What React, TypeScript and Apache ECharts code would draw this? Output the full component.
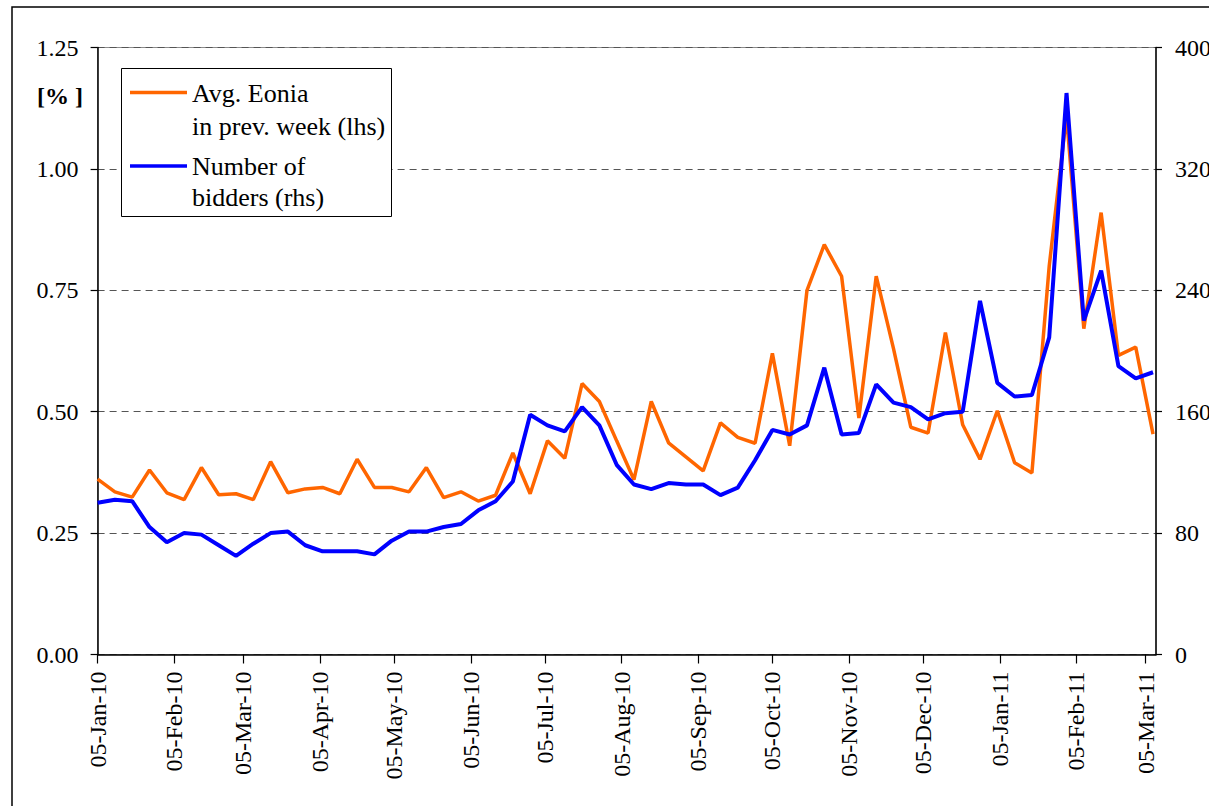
import React, { useEffect, useRef } from "react";
import * as echarts from "echarts";

const dates: string[] = [
  "2010-01-05", "2010-01-12", "2010-01-19", "2010-01-26",
  "2010-02-02", "2010-02-09", "2010-02-16", "2010-02-23",
  "2010-03-02", "2010-03-09", "2010-03-16", "2010-03-23", "2010-03-30",
  "2010-04-06", "2010-04-13", "2010-04-20", "2010-04-27",
  "2010-05-04", "2010-05-11", "2010-05-18", "2010-05-25",
  "2010-06-01", "2010-06-08", "2010-06-15", "2010-06-22", "2010-06-29",
  "2010-07-06", "2010-07-13", "2010-07-20", "2010-07-27",
  "2010-08-03", "2010-08-10", "2010-08-17", "2010-08-24", "2010-08-31",
  "2010-09-07", "2010-09-14", "2010-09-21", "2010-09-28",
  "2010-10-05", "2010-10-12", "2010-10-19", "2010-10-26",
  "2010-11-02", "2010-11-09", "2010-11-16", "2010-11-23", "2010-11-30",
  "2010-12-07", "2010-12-14", "2010-12-21", "2010-12-28",
  "2011-01-04", "2011-01-11", "2011-01-18", "2011-01-25",
  "2011-02-01", "2011-02-08", "2011-02-15", "2011-02-22",
  "2011-03-01", "2011-03-08",
];

const eonia: number[] = [
  0.361, 0.335, 0.324, 0.380, 0.333, 0.319, 0.385, 0.329, 0.331, 0.319,
  0.397, 0.333, 0.341, 0.344, 0.331, 0.402, 0.344, 0.344, 0.335, 0.385,
  0.323, 0.335, 0.316, 0.328, 0.415, 0.331, 0.440, 0.404, 0.558, 0.521,
  0.440, 0.360, 0.521, 0.436, 0.407, 0.378, 0.477, 0.447, 0.435, 0.620,
  0.430, 0.750, 0.844, 0.779, 0.487, 0.779, 0.630, 0.468, 0.456, 0.663,
  0.473, 0.402, 0.502, 0.395, 0.374, 0.800, 1.110, 0.671, 0.910, 0.616,
  0.633, 0.454,
];

const bidders: number[] = [
  100, 102, 101, 84, 74, 80, 79, 72, 65, 73,
  80, 81, 72, 68, 68, 68, 66, 75, 81, 81,
  84, 86, 95, 101, 114, 158, 151, 147, 163, 151,
  125, 112, 109, 113, 112, 112, 105, 110, 128, 148,
  145, 151, 189, 145, 146, 178, 166, 163, 155, 159,
  160, 233, 179, 170, 171, 209, 370, 220, 253, 190,
  182, 186,
];

const tickDates: string[] = [
  "2010-01-05", "2010-02-05", "2010-03-05", "2010-04-05", "2010-05-05",
  "2010-06-05", "2010-07-05", "2010-08-05", "2010-09-05", "2010-10-05",
  "2010-11-05", "2010-12-05", "2011-01-05", "2011-02-05", "2011-03-05",
];

const MONTHS = ["Jan", "Feb", "Mar", "Apr", "May", "Jun", "Jul", "Aug", "Sep", "Oct", "Nov", "Dec"];
const DAY = 86400000;
const BASE = Date.UTC(2010, 0, 5);

function toDay(s: string): number {
  const [y, m, d] = s.split("-").map(Number);
  return Math.round((Date.UTC(y, m - 1, d) - BASE) / DAY);
}

function fmtDay(v: number): string {
  const d = new Date(BASE + Math.round(v) * DAY);
  const dd = String(d.getUTCDate()).padStart(2, "0");
  return `${dd}-${MONTHS[d.getUTCMonth()]}-${String(d.getUTCFullYear()).slice(2)}`;
}

const FONT = "Liberation Serif";

export default function App() {
  const ref = useRef<HTMLDivElement>(null);

  useEffect(() => {
    if (!ref.current) return;
    const chart = echarts.init(ref.current, null, { renderer: "svg" });
    const dayIdx = dates.map(toDay);
    const tickDays = tickDates.map(toDay);

    const option: any = {
      animation: false,
      textStyle: { fontFamily: FONT },
      grid: {
        left: 97.6,
        top: 47.5,
        width: 1058.4,
        height: 607,
        show: true,
        borderColor: "#8c8c8c",
        borderWidth: 1,
        backgroundColor: "transparent",
        containLabel: false,
        outerBoundsMode: "none",
      },
      xAxis: {
        type: "value",
        min: 0,
        max: 428.2,
        axisLine: { show: true, lineStyle: { color: "#000", width: 1.5 } },
        axisTick: { show: true, customValues: tickDays, length: 9, lineStyle: { color: "#000", width: 1.2 } },
        axisLabel: {
          customValues: tickDays,
          rotate: 90,
          formatter: (v: number) => fmtDay(v),
          color: "#000",
          fontFamily: FONT,
          fontSize: 24,
          margin: 17,
        },
        splitLine: { show: false },
      },
      yAxis: [
        {
          type: "value",
          min: 0,
          max: 1.25,
          interval: 0.25,
          position: "left",
          axisLine: { show: true, lineStyle: { color: "#000", width: 1.5 } },
          axisTick: { show: true, length: 7, lineStyle: { color: "#000", width: 1.2 } },
          axisLabel: {
            formatter: (v: number) => v.toFixed(2),
            color: "#000",
            fontFamily: FONT,
            fontSize: 24,
            margin: 19,
          },
          splitLine: {
            show: true,
            lineStyle: { color: "#555", width: 1, type: [7, 5] },
          },
        },
        {
          type: "value",
          min: 0,
          max: 400,
          interval: 80,
          position: "right",
          axisLine: { show: true, lineStyle: { color: "#000", width: 1.5 } },
          axisTick: { show: true, length: 6, lineStyle: { color: "#000", width: 1.2 } },
          axisLabel: {
            color: "#000",
            fontFamily: FONT,
            fontSize: 24,
            margin: 19,
          },
          splitLine: { show: false },
        },
      ],
      series: [
        {
          name: "Avg. Eonia in prev. week (lhs)",
          type: "line",
          yAxisIndex: 0,
          symbol: "none",
          lineStyle: { color: "#FF6600", width: 3.5 },
          itemStyle: { color: "#FF6600" },
          data: dayIdx.map((d, i) => [d, eonia[i]]),
          z: 2,
        },
        {
          name: "Number of bidders (rhs)",
          type: "line",
          yAxisIndex: 1,
          symbol: "none",
          lineStyle: { color: "#0000FF", width: 4 },
          itemStyle: { color: "#0000FF" },
          data: dayIdx.map((d, i) => [d, bidders[i]]),
          z: 3,
        },
      ],
      graphic: [
        {
          type: "rect",
          shape: { x: 12, y: 7, width: 1300, height: 900 },
          style: { fill: "none", stroke: "#000", lineWidth: 1.5 },
          silent: true,
          z: 0,
        },
        {
          type: "text",
          x: 37,
          y: 84,
          style: {
            text: "[% ]",
            fontFamily: FONT,
            fontSize: 24,
            fontWeight: "bold",
            fill: "#000",
          },
        },
        {
          type: "rect",
          shape: { x: 121.5, y: 68.5, width: 270, height: 148 },
          style: { fill: "#fff", stroke: "#000", lineWidth: 1 },
          z: 10,
        },
        {
          type: "line",
          shape: { x1: 130, y1: 92.5, x2: 187, y2: 92.5 },
          style: { stroke: "#FF6600", lineWidth: 3.5 },
          z: 11,
        },
        {
          type: "line",
          shape: { x1: 130, y1: 166, x2: 187, y2: 166 },
          style: { stroke: "#0000FF", lineWidth: 3.5 },
          z: 11,
        },
        {
          type: "text",
          x: 192,
          y: 80,
          style: { text: "Avg. Eonia", fontFamily: FONT, fontSize: 26, fill: "#000" },
          z: 11,
        },
        {
          type: "text",
          x: 192,
          y: 113,
          style: { text: "in prev. week (lhs)", fontFamily: FONT, fontSize: 26, fill: "#000" },
          z: 11,
        },
        {
          type: "text",
          x: 192,
          y: 153,
          style: { text: "Number of", fontFamily: FONT, fontSize: 26, fill: "#000" },
          z: 11,
        },
        {
          type: "text",
          x: 192,
          y: 184,
          style: { text: "bidders (rhs)", fontFamily: FONT, fontSize: 26, fill: "#000" },
          z: 11,
        },
      ],
    };

    chart.setOption(option);
    return () => chart.dispose();
  }, []);

  return (
    <>
      <style>{`#chart-root svg text { font-family: "Liberation Serif", "Times New Roman", serif !important; }`}</style>
      <div
        id="chart-root"
        ref={ref}
        style={{ position: "absolute", left: 0, top: 0, width: 1209, height: 806, background: "#fff" }}
      />
    </>
  );
}
